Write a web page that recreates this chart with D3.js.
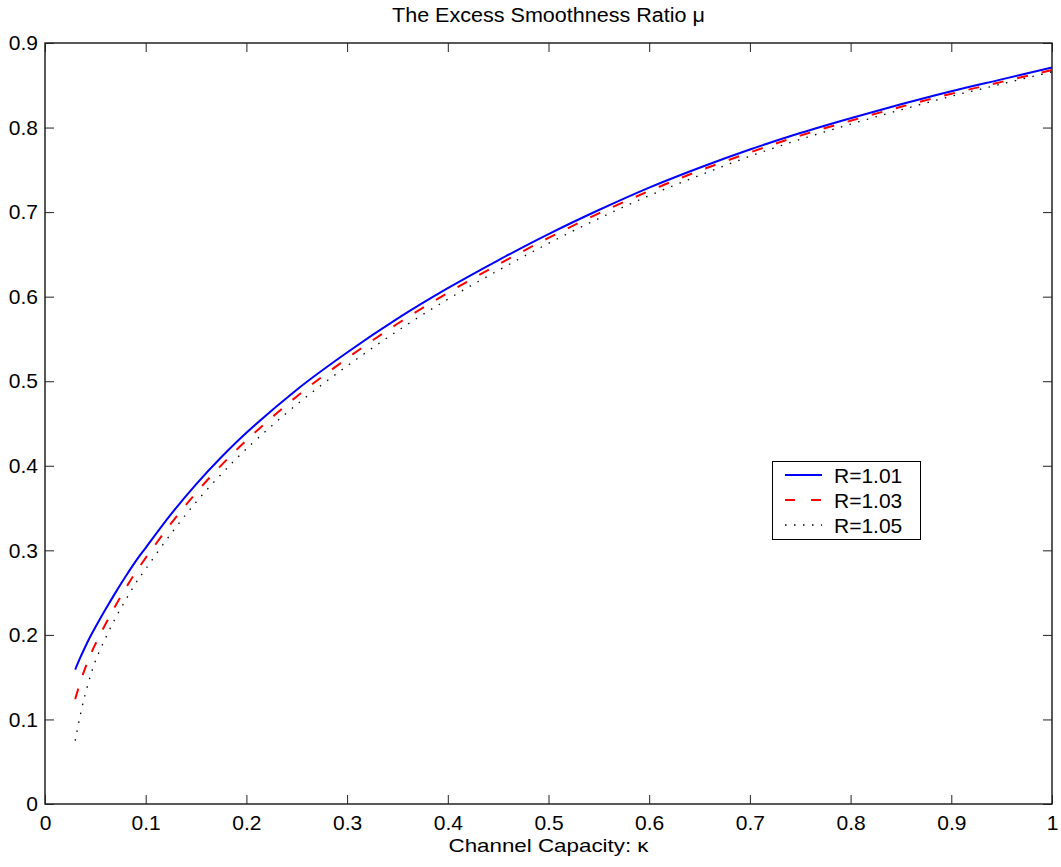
<!DOCTYPE html>
<html>
<head>
<meta charset="utf-8">
<script src="https://cdn.jsdelivr.net/npm/d3@7"></script>
<style>
body{margin:0;background:#fff;}
text{font-family:"Liberation Sans",Arial,Helvetica,sans-serif;fill:#000;}
</style>
</head>
<body>
<div id="chart"></div>
<script>
// channel capacity kappa (x values shared by all curves)
var kappa = [0.03,0.035,0.04,0.045,0.05,0.06,0.07,0.08,0.09,0.10,0.125,0.15,0.175,0.20,0.25,0.30,0.35,0.40,0.45,0.50,0.55,0.60,0.65,0.70,0.75,0.80,0.85,0.90,0.95,1.00];
// excess smoothness ratio mu
var mu101 = [0.159,0.173,0.186,0.198,0.209,0.230,0.250,0.269,0.287,0.303,0.3425,0.378,0.410,0.439,0.490,0.534,0.574,0.610,0.643,0.674,0.7025,0.729,0.7525,0.774,0.7935,0.811,0.8275,0.843,0.857,0.871];
var mu103 = [0.124,0.144,0.161,0.176,0.189,0.2125,0.2345,0.255,0.274,0.291,0.3315,0.368,0.4005,0.430,0.482,0.527,0.568,0.6045,0.638,0.6695,0.6985,0.725,0.749,0.7705,0.7905,0.808,0.8245,0.840,0.854,0.868];
var mu105 = [0.075,0.105,0.130,0.151,0.169,0.196,0.220,0.241,0.261,0.278,0.3195,0.357,0.390,0.420,0.4725,0.518,0.5595,0.597,0.631,0.663,0.6925,0.7195,0.7435,0.766,0.786,0.804,0.821,0.837,0.8515,0.866];
var seriesNames = ["R=1.01","R=1.03","R=1.05"];
var xTicks = [0,0.1,0.2,0.3,0.4,0.5,0.6,0.7,0.8,0.9,1];
var yTicks = [0,0.1,0.2,0.3,0.4,0.5,0.6,0.7,0.8,0.9];

var W = 1061, H = 867;
var left = 45, top_ = 43, right = 1052, bottom = 804;

var svg = d3.select("#chart").append("svg").attr("width",W).attr("height",H);

var x = d3.scaleLinear().domain([0,1]).range([left,right]);
var y = d3.scaleLinear().domain([0,0.9]).range([bottom,top_]);

// box
svg.append("rect").attr("x",left).attr("y",top_).attr("width",right-left).attr("height",bottom-top_)
   .attr("fill","none").attr("stroke","#000").attr("stroke-width",1.3);

// inward ticks on all four sides
var tk = 9;
var fmt = function(d){ return d===0 ? "0" : d===1 ? "1" : d3.format(".1f")(d); };

var xb = svg.append("g").attr("transform","translate(0,"+bottom+")")
  .call(d3.axisBottom(x).tickValues(xTicks).tickSizeInner(-tk).tickSizeOuter(0).tickFormat(fmt));
var xt = svg.append("g").attr("transform","translate(0,"+top_+")")
  .call(d3.axisTop(x).tickValues(xTicks).tickSizeInner(-tk).tickSizeOuter(0).tickFormat(""));
var yl = svg.append("g").attr("transform","translate("+left+",0)")
  .call(d3.axisLeft(y).tickValues(yTicks).tickSizeInner(-tk).tickSizeOuter(0).tickPadding(7).tickFormat(fmt));
var yr = svg.append("g").attr("transform","translate("+right+",0)")
  .call(d3.axisRight(y).tickValues(yTicks).tickSizeInner(-tk).tickSizeOuter(0).tickFormat(""));

[xb,xt,yl,yr].forEach(function(g){
  g.select(".domain").remove();
  g.selectAll(".tick line").attr("stroke","#222").attr("stroke-width",1);
  g.selectAll(".tick text").style("font-size","21px").style("font-family","'Liberation Sans',Arial,sans-serif").attr("fill","#000");
});
xb.selectAll(".tick text").attr("y",26).attr("dy","0");

// curves
var line = d3.line().x(function(d){return x(d[0]);}).y(function(d){return y(d[1]);}).curve(d3.curveCatmullRom.alpha(0.5));
var styles = [
  {color:"#0000ff", width:2, dash:null},
  {color:"#ff0000", width:2, dash:"11,14"},
  {color:"#000000", width:1.3, dash:"1.5,7.5"}
];
var allMu = [mu101, mu103, mu105];
allMu.forEach(function(m,i){
  var pts = kappa.map(function(k,j){ return [k, m[j]]; });
  var p = svg.append("path").datum(pts).attr("d",line)
    .attr("fill","none").attr("stroke",styles[i].color).attr("stroke-width",styles[i].width);
  if(styles[i].dash) p.attr("stroke-dasharray",styles[i].dash);
});

// title and axis label
svg.append("text").attr("x",(left+right)/2).attr("y",22).attr("text-anchor","middle")
  .attr("textLength",313).attr("lengthAdjust","spacingAndGlyphs")
  .style("font-size","20px").text("The Excess Smoothness Ratio \u03bc");
svg.append("text").attr("x",(left+right)/2).attr("y",852).attr("text-anchor","middle")
  .attr("textLength",200).attr("lengthAdjust","spacingAndGlyphs")
  .style("font-size","18.5px").text("Channel Capacity: \u03ba");

// legend
var lg = svg.append("g");
lg.append("rect").attr("x",772.5).attr("y",461.5).attr("width",148).attr("height",78)
  .attr("fill","#fff").attr("stroke","#000").attr("stroke-width",1);
seriesNames.forEach(function(n,i){
  var yy = 475 + i*25;
  var l = lg.append("line").attr("x1",785).attr("x2",822).attr("y1",yy).attr("y2",yy)
    .attr("stroke",styles[i].color).attr("stroke-width",styles[i].width);
  if(styles[i].dash) l.attr("stroke-dasharray", i===1 ? "10,16" : "1.5,7.5");
  lg.append("text").attr("x",834).attr("y",yy+8).style("font-size","21px").text(n);
});
</script>
</body>
</html>
